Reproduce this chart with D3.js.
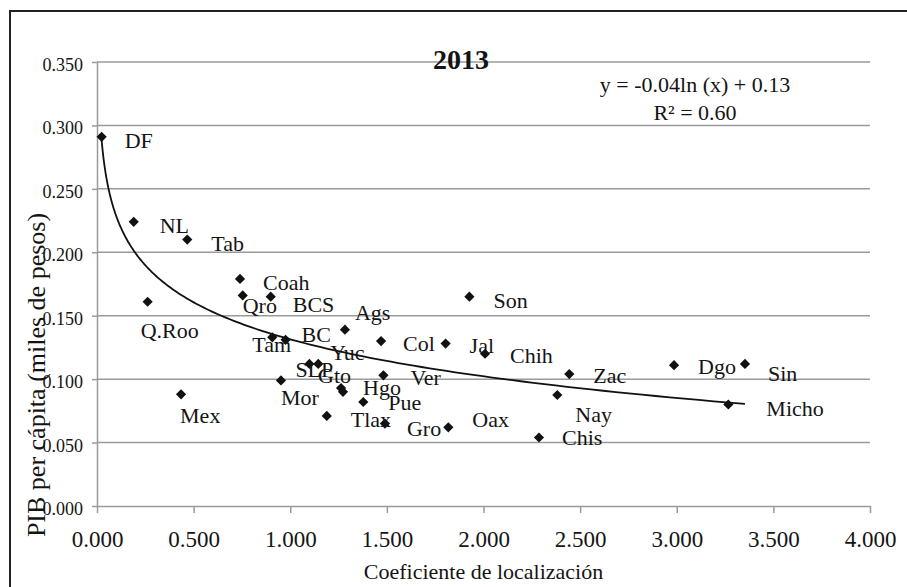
<!DOCTYPE html>
<html lang="es">

<head>
    <meta charset="UTF-8">
    <title>2013 - PIB per cápita vs coeficiente de localización</title>
    <style>
        body { margin: 0; background: #fff; }
    </style>
</head>

<body>
    <svg id="scatter"></svg>
    <script src="https://cdnjs.cloudflare.com/ajax/libs/d3/7.8.5/d3.min.js"></script>
    <script type="text/javascript">
        // datos
        const states = ["DF", "NL", "Tab", "Coah", "Qro", "BCS", "Q.Roo", "Tam", "BC", "Ags",
            "Col", "SLP", "Yuc", "Gto", "Hgo", "Mor", "Mex", "Pue", "Tlax", "Gro",
            "Oax", "Ver", "Jal", "Chih", "Son", "Zac", "Nay", "Chis", "Dgo", "Sin", "Micho"];
        const coefLoc = [0.024, 0.190, 0.467, 0.740, 0.754, 0.899, 0.262, 0.907, 0.976, 1.283,
            1.470, 1.099, 1.145, 1.263, 1.273, 0.952, 0.435, 1.378, 1.189, 1.490,
            1.818, 1.482, 1.804, 2.008, 1.927, 2.444, 2.382, 2.287, 2.986, 3.353, 3.267];
        const pibPc = [0.291, 0.224, 0.210, 0.179, 0.166, 0.165, 0.161, 0.133, 0.131, 0.139,
            0.130, 0.112, 0.112, 0.093, 0.090, 0.099, 0.088, 0.082, 0.071, 0.065,
            0.062, 0.103, 0.128, 0.120, 0.165, 0.104, 0.0875, 0.054, 0.111, 0.112, 0.080];
        const xTicks = [0, 0.5, 1, 1.5, 2, 2.5, 3, 3.5, 4];
        const yTicks = [0, 0.05, 0.1, 0.15, 0.2, 0.25, 0.3, 0.35];
        const chartTitle = "2013";
        const eqLines = ["y = -0.04ln (x) + 0.13", "R² = 0.60"];
        // coeficientes de la tendencia (y = a ln x + b)
        const trendA = -0.0421;
        const trendB = 0.1314;

        // posición de cada etiqueta respecto a su punto (px)
        const labelOffsets = {
            "DF": [23, 11], "NL": [26, 11], "Tab": [24, 11], "Coah": [23, 11], "Qro": [0, 18],
            "BCS": [22, 15], "Q.Roo": [-7, 36], "Tam": [-20, 15], "BC": [16, 2], "Ags": [10, -10],
            "Col": [22, 10], "SLP": [-14, 13], "Yuc": [12, -4], "Gto": [-23, -5], "Hgo": [20, 3],
            "Mor": [0, 25], "Mex": [-1, 29], "Pue": [25, 8], "Tlax": [24, 11], "Gro": [22, 12],
            "Oax": [24, 0], "Ver": [27, 10], "Jal": [24, 9], "Chih": [25, 9], "Son": [24, 11],
            "Zac": [24, 9], "Nay": [18, 27], "Chis": [23, 8], "Dgo": [24, 9], "Sin": [23, 17],
            "Micho": [38, 11]
        };

        window.onload = function () {
            drawScatter();
        }

        function drawScatter() {
            const W = 907, H = 587;
            const plot = { left: 97, right: 870, top: 62, bottom: 506 };
            const grey = "#9a9a9a";
            const serif = '"Liberation Serif", "Times New Roman", serif';
            const ink = "#141414";

            const svg = d3.select("#scatter").attr("width", W).attr("height", H);

            // marco exterior (solo se ven izquierda y arriba)
            svg.append("path")
                .attr("d", "M10,600 L10,11 L920,11")
                .attr("fill", "none")
                .attr("stroke", "#222")
                .attr("stroke-width", 2);

            const x = d3.scaleLinear().domain([0, 4]).range([plot.left, plot.right]);
            const y = d3.scaleLinear().domain([0, 0.35]).range([plot.bottom, plot.top]);

            const data = states.map(function (s, i) {
                return { name: s, x: coefLoc[i], y: pibPc[i] };
            });

            // líneas de cuadrícula
            svg.append("g").selectAll("line")
                .data(yTicks.filter(function (d) { return d > 0; }))
                .enter().append("line")
                .attr("x1", plot.left).attr("x2", plot.right)
                .attr("y1", function (d) { return y(d); })
                .attr("y2", function (d) { return y(d); })
                .attr("stroke", grey)
                .attr("stroke-width", 1.5);

            // eje y
            const yAxis = svg.append("g")
                .attr("transform", "translate(" + plot.left + ",0)")
                .call(d3.axisLeft(y).tickValues(yTicks).tickSize(5).tickSizeOuter(0)
                    .tickFormat(d3.format(".3f")));
            yAxis.attr("font-family", null);
            yAxis.select(".domain").attr("stroke", grey).attr("stroke-width", 1.5);
            yAxis.selectAll(".tick line").attr("stroke", grey).attr("stroke-width", 1.5);
            yAxis.selectAll(".tick text")
                .attr("x", -14).attr("dy", 8.5)
                .style("font-family", serif)
                .style("font-size", "18px")
                .attr("fill", ink);

            // eje x
            const xAxis = svg.append("g")
                .attr("transform", "translate(0," + plot.bottom + ")")
                .call(d3.axisBottom(x).tickValues(xTicks).tickSize(7).tickSizeOuter(0)
                    .tickFormat(d3.format(".3f")));
            xAxis.attr("font-family", null);
            xAxis.select(".domain").attr("stroke", grey).attr("stroke-width", 1.5);
            xAxis.selectAll(".tick line").attr("stroke", grey).attr("stroke-width", 1.5);
            xAxis.selectAll(".tick text")
                .attr("y", 41).attr("dy", 0)
                .style("font-family", serif)
                .style("font-size", "23px")
                .attr("fill", ink);

            // línea de tendencia logarítmica, del menor al mayor x
            const xExt = d3.extent(coefLoc);
            const curve = d3.range(0, 201).map(function (k) {
                const xv = xExt[0] * Math.pow(xExt[1] / xExt[0], k / 200);
                return [xv, trendA * Math.log(xv) + trendB];
            });
            svg.append("path")
                .datum(curve)
                .attr("fill", "none")
                .attr("stroke", "#111")
                .attr("stroke-width", 1.8)
                .attr("d", d3.line()
                    .x(function (d) { return x(d[0]); })
                    .y(function (d) { return y(d[1]); }));

            // puntos en forma de rombo
            const diamond = d3.symbol().type(d3.symbolSquare).size(52);
            svg.append("g").selectAll("path")
                .data(data)
                .enter().append("path")
                .attr("d", diamond)
                .attr("transform", function (d) {
                    return "translate(" + x(d.x) + "," + y(d.y) + ") rotate(45)";
                })
                .attr("fill", "#111");

            // etiquetas de los estados
            svg.append("g").selectAll("text")
                .data(data)
                .enter().append("text")
                .attr("x", function (d) { return x(d.x) + labelOffsets[d.name][0]; })
                .attr("y", function (d) { return y(d.y) + labelOffsets[d.name][1]; })
                .style("font-family", serif)
                .style("font-size", "22px")
                .attr("fill", ink)
                .text(function (d) { return d.name; });

            // título
            svg.append("text")
                .attr("x", 461).attr("y", 69)
                .attr("text-anchor", "middle")
                .style("font-family", serif)
                .style("font-size", "28px")
                .style("font-weight", "bold")
                .attr("fill", ink)
                .text(chartTitle);

            // ecuación y R²
            svg.append("g").selectAll("text")
                .data(eqLines)
                .enter().append("text")
                .attr("x", 695)
                .attr("y", function (d, i) { return 92 + i * 28; })
                .attr("text-anchor", "middle")
                .style("font-family", serif)
                .style("font-size", "22px")
                .attr("fill", ink)
                .text(function (d) { return d; });

            // títulos de los ejes
            svg.append("text")
                .attr("x", (plot.left + plot.right) / 2).attr("y", 579)
                .attr("text-anchor", "middle")
                .style("font-family", serif)
                .style("font-size", "22px")
                .attr("fill", ink)
                .text("Coeficiente de localización");

            svg.append("text")
                .attr("transform", "translate(45,375) rotate(-90)")
                .attr("text-anchor", "middle")
                .style("font-family", serif)
                .style("font-size", "26px")
                .attr("fill", ink)
                .text("PIB per cápita (miles de pesos)");
        }
    </script>
</body>

</html>
